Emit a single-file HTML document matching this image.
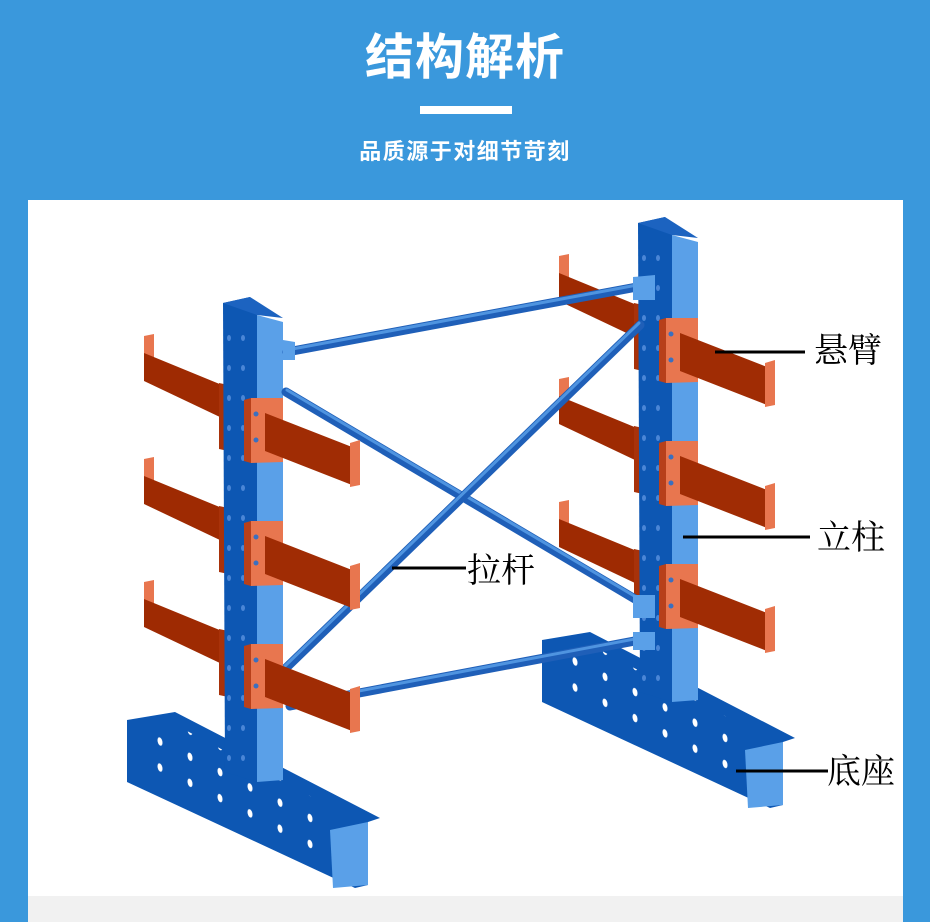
<!DOCTYPE html>
<html><head><meta charset="utf-8"><style>
html,body{margin:0;padding:0}
body{width:930px;height:922px;background:#3a98dc;position:relative;overflow:hidden;font-family:"Liberation Sans","Noto Sans CJK SC",sans-serif}
.t{position:absolute;left:0;width:930px;text-align:center;color:#fff}
</style></head><body>
<div class="t" style="top:28px;font-size:49px;font-weight:bold;line-height:60px;letter-spacing:1px">结构解析</div>
<div style="position:absolute;left:420px;top:106px;width:92px;height:8px;background:#fff"></div>
<div class="t" style="top:137px;font-size:22px;font-weight:bold;line-height:30px;letter-spacing:1.5px">品质源于对细节苛刻</div>
<div style="position:absolute;left:28px;top:200px;width:875px;height:722px;background:#fff"></div>
<div style="position:absolute;left:28px;top:896px;width:875px;height:26px;background:#f1f1f1"></div>
<svg style="position:absolute;left:0;top:0" width="930" height="922" viewBox="0 0 930 922">
<defs>
<pattern id="holes" x="0" y="0" width="14" height="30" patternUnits="userSpaceOnUse">
<ellipse cx="5" cy="8" rx="2" ry="3" fill="#4a86d6"/>
</pattern>
<pattern id="bholes" x="0" y="0" width="30" height="26" patternUnits="userSpaceOnUse" patternTransform="skewY(27)">
<ellipse cx="10" cy="10" rx="2.5" ry="4" fill="#ffffff"/>
</pattern>
<g id="back">
<polygon points="144,336 154,334 154,362 144,364" fill="#e8764f"/>
<polygon points="144,353 222,385 222,418 144,381" fill="#9e2a02"/>
<polygon points="219,383 233,386 233,452 219,449" fill="#a8320a"/>
</g>
<g id="front">
<polygon points="244,400 251,398 251,463 244,461" fill="#b8401a"/>
<polygon points="251,398 283,398 283,462 251,463" fill="#e8764f"/>
<polygon points="265,413 352,447 352,485 265,451" fill="#a02c04"/>
<polygon points="350,443 360,440 360,485 350,487" fill="#e8764f"/>
<circle cx="256" cy="414" r="2.5" fill="#3a6fc0"/><circle cx="256" cy="440" r="2.5" fill="#3a6fc0"/>
</g>
<g id="unitA">
<use href="#back"/><use href="#back" y="123"/><use href="#back" y="246"/>
<polygon points="127,720 175,712 380,818 368,822 368,885 355,888 127,782" fill="#0d57b3"/>
<polygon points="135,730 170,722 365,825 365,880 140,775" fill="url(#bholes)"/>
<polygon points="330,830 368,822 368,885 333,888" fill="#5aa0e8"/>
<polygon points="223,303 250,297 257,315 257,782 225,772" fill="#0d57b3"/>
<rect x="226" y="318" width="28" height="450" fill="url(#holes)"/>
<polygon points="257,315 283,322 283,780 257,782" fill="#5aa0e8"/>
<polygon points="223,303 250,297 283,318 257,315" fill="#1c63c0"/>
</g>
<g id="unitB">
<use href="#front"/><use href="#front" y="123"/><use href="#front" y="246"/>
</g>
</defs>
<use href="#unitA"/>
<use href="#unitA" x="415" y="-80"/>
<g stroke-linecap="round">
<line x1="287" y1="352" x2="637" y2="287" stroke="#1f5fb8" stroke-width="9"/>
<line x1="287" y1="350" x2="637" y2="285" stroke="#4f94e0" stroke-width="3"/>
<line x1="290" y1="706" x2="640" y2="640" stroke="#1f5fb8" stroke-width="9"/>
<line x1="290" y1="704" x2="640" y2="638" stroke="#4f94e0" stroke-width="3"/>
<line x1="286" y1="392" x2="640" y2="602" stroke="#1f5fb8" stroke-width="9"/>
<line x1="287" y1="390" x2="641" y2="600" stroke="#4f94e0" stroke-width="3"/>
<line x1="286" y1="668" x2="640" y2="325" stroke="#1f5fb8" stroke-width="9"/>
<line x1="285" y1="666" x2="639" y2="323" stroke="#4f94e0" stroke-width="3"/>
</g>
<polygon points="283,340 295,342 295,360 283,360" fill="#5aa0e8"/>
<polygon points="633,277 655,275 655,300 633,300" fill="#5aa0e8"/>
<polygon points="633,595 655,595 655,618 633,618" fill="#5aa0e8"/>
<polygon points="633,632 655,632 655,650 633,650" fill="#5aa0e8"/>
<use href="#unitB"/>
<use href="#unitB" x="415" y="-80"/>
<g stroke="#000" stroke-width="3">
<line x1="715" y1="352" x2="805" y2="352"/>
<line x1="683" y1="537" x2="810" y2="537"/>
<line x1="392" y1="568" x2="466" y2="568"/>
<line x1="736" y1="771" x2="828" y2="771"/>
</g>
<g font-family="'Liberation Serif','Noto Serif CJK SC',serif" font-size="34" fill="#000">
<text x="814" y="362">悬臂</text>
<text x="817" y="549">立柱</text>
<text x="467" y="582">拉杆</text>
<text x="827" y="783">底座</text>
</g>
</svg>
</body></html>
